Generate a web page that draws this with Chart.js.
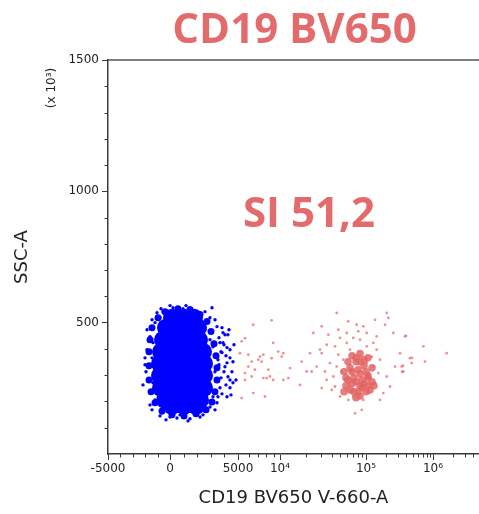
<!DOCTYPE html>
<html>
<head>
<meta charset="utf-8">
<script src="https://cdn.jsdelivr.net/npm/chart.js@4"></script>
<style>
  html, body { margin: 0; padding: 0; background: #fff; }
</style>
</head>
<body>
<canvas id="myChart" width="479" height="514"></canvas>
<script>
// ---- data (x: CD19 BV650 V-660-A, y: SSC-A in thousands) ----
const xTickValues = [-5000, 0, 5000, 1e4, 1e5, 1e6];
const xTickLabels = ['-5000', '0', '5000', '10\u2074', '10\u2075', '10\u2076'];
const yTickValues = [500, 1000, 1500];
const yTickLabels = ['500', '1000', '1500'];

// dense core of the CD19- population
const blueCore = [
  [147,519],[1029,519],[1764,519],
  [-322,481],[588,481],[1470,481],[2058,481],
  [-564,435],[368,435],[1250,435],[2132,435],
  [-725,389],[147,389],[956,389],[1764,389],[2426,389],
  [-806,344],[74,344],[882,344],[1691,344],[2499,344],
  [-806,298],[74,298],[882,298],[1691,298],[2499,298],
  [-725,252],[147,252],[956,252],[1764,252],[2499,252],
  [-403,206],[515,206],[1397,206],[2205,206],
  [147,183],[1029,183],[1911,183]
];
// edge of the dense CD19- cloud
const blueRim = [
  [-967,519],[-403,542],[588,553],[1470,550],[2205,531],[2720,504],[3014,466],[3234,420],
  [3381,374],[3455,328],[3455,282],[3308,237],[3087,198],[2646,168],[1911,153],[1029,145],
  [147,149],[-645,164],[-1209,195],[-1531,237],[-1693,282],[-1693,336],[-1693,389],[-1612,435],
  [-1451,481]
];
// outer events of the CD19- population
const blueEvents = [
  [-2015,340],[-1612,233],[-1451,168],[-1048,538],[-564,542],[221,557],[956,553],[1617,538],
  [2205,511],[2573,473],[3087,557],[3455,485],[3896,462],[4263,454],[4190,405],[4410,366],
  [4263,294],[3675,252],[3161,218],[2720,195],[1985,168],[735,149],[0,141],[-645,156],
  [-1209,206],[-1773,282],[-1854,397],[-1612,447],[-1209,500],[3308,313],[3528,359],[3161,408],
  [2940,435],[2793,282],[3675,424],[4043,332],[4410,282],[4190,218],[3455,195],[2426,149],
  [515,137],[-242,179],[-967,233],[-1370,271],[-1451,366],[-1370,424],[-806,519],[0,531],
  [1323,542],[2058,531],[2720,500],[3822,481],[4043,454],[3896,424],[4410,397],[3822,386],
  [4190,347],[4557,313],[4630,271],[4410,252],
  [2940,519],[3308,511],[3602,443],[3969,416],[3749,389],[4116,374],[3602,340],[3969,313],
  [3749,290],[4116,263],[3822,229],[3528,218],[2940,179],[2205,141],[1470,134],[-806,145],
  [-1612,187],[-1934,313],[-2015,366],[-1854,473],[-1451,511],[-725,553],[0,565],[1176,565],
  [2573,542],[4630,351],[4704,416],[4337,473],[4851,282],[4484,225],[3308,168],[1323,126],
  [-322,130],[-2176,263]
];
// dense core of the CD19+ population
const redCore = [
  [68800,374],[85100,382],[107000,366],[61800,351],[76500,351],[94800,336],[123000,328],
  [55500,313],[68800,313],[85100,305],[107000,298],[61800,282],[76500,275],[94800,267],
  [123000,275],[65200,244],[80700,237],[100000,237],[85100,351],[72400,290],[89800,252],
  [58500,260],[114800,244],[76500,214],
  [76500,366],[94800,359],[65200,328],[80700,321],[100000,313],[58500,290],[89800,282],
  [107000,290],[68800,267],[85100,260],[107000,260],[72400,237],[55500,237],[131600,260],
  [85100,221]
];
// scattered CD19+ events
const redEvents = [
  [6430,492],[8710,509],[5310,429],[5610,441],[5160,384],[5930,378],[6270,352],[7180,371],
  [7590,378],[6980,359],[7380,352],[8710,365],[9710,390],[10470,371],[10920,384],[6610,321],
  [5930,333],[5610,308],[6270,295],[7590,289],[8020,289],[8470,295],[8940,282],[8240,321],
  [10920,282],[12500,289],[5310,213],[6430,232],[7800,219],[8940,423],[13060,327],[5610,282],
  [17870,352],[17100,263],[20420,314],[23360,314],[22340,384],[24420,461],[30550,486],[29170,397],
  [30550,384],[34890,416],[26670,333],[30550,251],[34890,282],[39870,244],[38100,346],[33340,314],
  [45600,537],[47660,473],[36480,454],
  [203700,537],[215400,518],[136200,511],[192300,492],[255800,461],[382200,448],[321300,384],
  [453900,365],[481300,346],[760300,352],[717800,410],[1600000,384],[340400,333],[360600,314],
  [271000,333],[228000,257],[203700,295],[181100,232],[161800,206],[395300,450],[486500,366],
  [356500,336],[344400,313],
  [62230,505],[77930,492],[93110,486],[102400,461],[81300,467],[59700,461],[71100,442],[49900,442],
  [43650,410],[47660,378],[45600,333],[41690,295],[43650,257],[49900,219],[62230,206],[71100,219],
  [93110,206],[108200,232],[136200,270],[152800,308],[161800,359],[144500,397],[128500,423],[144500,448],
  [89100,168],[74500,155],[59700,423],[102400,410],[85100,435],[65200,397],[54450,359],[128500,333],
  [121600,371],[57020,282],[65200,244],[93110,244],[114800,289],[52120,314],[68080,314],[85100,371],
  [102400,346],[74500,270]
];

const toPts = arr => arr.map(([x, y]) => ({ x, y }));

// ---- biexponential-like x scale: linear around zero, log above ----
const X_MAX = 4.9e6;
const xSegments = [ // from, to, relative width, log
  [-5000, 0, 62, false],
  [0, 5000, 68, false],
  [5000, 1e4, 42, true],
  [1e4, 1e5, 86, true],
  [1e5, 1e6, 67, true],
  [1e6, X_MAX, 46, true]
];
const xTotal = xSegments.reduce((s, g) => s + g[2], 0);

function biex(v) {
  let pos = 0;
  for (let i = 0; i < xSegments.length; i++) {
    const [a, b, w, lg] = xSegments[i];
    if (v <= b || i === xSegments.length - 1) {
      const t = lg
        ? (Math.log10(Math.max(v, 1)) - Math.log10(a)) / (Math.log10(b) - Math.log10(a))
        : (v - a) / (b - a);
      return pos + t * w;
    }
    pos += w;
  }
}

class BiexScale extends Chart.LinearScale {
  buildTicks() {
    return xTickValues.map(v => ({ value: v }));
  }
  _calculatePadding() {
    this.paddingLeft = 0;
    this.paddingRight = 0;
  }
  getPixelForValue(v) {
    return this.getPixelForDecimal(biex(v) / xTotal);
  }
  getValueForPixel(p) {
    let u = this.getDecimalForPixel(p) * xTotal, pos = 0;
    for (const [a, b, w, lg] of xSegments) {
      if (u <= pos + w) {
        const t = (u - pos) / w;
        return lg ? Math.pow(10, Math.log10(a) + t * (Math.log10(b) - Math.log10(a))) : a + t * (b - a);
      }
      pos += w;
    }
    return X_MAX;
  }
}
BiexScale.id = 'biex';
BiexScale.defaults = Chart.LinearScale.defaults;
Chart.register(BiexScale);

const xMinor = [];
for (let v = -4000; v <= 9000; v += 1000) if (v !== 0 && v !== 5000) xMinor.push(v);
[1e4, 1e5, 1e6].forEach(d => { for (let k = 2; k <= 9 && d * k < X_MAX; k++) xMinor.push(d * k); });
const yMinor = [];
for (let v = 100; v < 1500; v += 100) if (v % 500) yMinor.push(v);

const axisColor = '#3a3a3a';
const accent = '#e36b6b';

const overlay = {
  id: 'overlay',
  afterDraw(chart) {
    const { ctx, chartArea: a, scales: { x, y } } = chart;
    ctx.save();
    ctx.strokeStyle = '#555';
    ctx.lineWidth = 1.5;
    ctx.beginPath();
    ctx.moveTo(a.left, a.top);
    ctx.lineTo(chart.width, a.top);
    ctx.stroke();

    ctx.strokeStyle = axisColor;
    ctx.lineWidth = 1;
    ctx.beginPath();
    xMinor.forEach(v => {
      const px = Math.round(x.getPixelForValue(v)) + 0.5;
      ctx.moveTo(px, a.bottom); ctx.lineTo(px, a.bottom + 3.5);
    });
    yMinor.forEach(v => {
      const py = Math.round(y.getPixelForValue(v)) + 0.5;
      ctx.moveTo(a.left, py); ctx.lineTo(a.left - 3.5, py);
    });
    ctx.stroke();

    ctx.fillStyle = accent;
    ctx.font = 'bold 42px "Open Sans"';
    ctx.textAlign = 'center';
    ctx.textBaseline = 'alphabetic';
    ctx.fillText('CD19 BV650', (a.left + a.right) / 2 + 1, 43);
    ctx.fillText('SI 51,2', x.getPixelForValue(21700), y.getPixelForValue(863));

    ctx.fillStyle = '#222';
    ctx.font = '12px "DejaVu Sans"';
    ctx.translate(52, 88);
    ctx.rotate(-Math.PI / 2);
    ctx.textBaseline = 'middle';
    ctx.fillText('(x 10\u00b3)', 0, 0);
    ctx.restore();
  }
};

Chart.defaults.font.family = '"DejaVu Sans"';
Chart.defaults.color = '#222';

const blue = '#0000ff';
const red = 'rgba(228,100,100,0.85)';

new Chart(document.getElementById('myChart'), {
  type: 'scatter',
  data: {
    datasets: [
      { label: 'CD19- core', data: toPts(blueCore), backgroundColor: blue, pointRadius: 9, borderWidth: 0 },
      { label: 'CD19- rim', data: toPts(blueRim), backgroundColor: blue, pointRadius: 3.5, borderWidth: 0 },
      { label: 'CD19-', data: toPts(blueEvents), backgroundColor: blue, pointRadius: 1.7, borderWidth: 0 },
      { label: 'CD19+ core', data: toPts(redCore), backgroundColor: red, pointRadius: 3.8, borderWidth: 0 },
      { label: 'CD19+', data: toPts(redEvents), backgroundColor: 'rgba(228,100,100,0.7)', pointRadius: 1.4, borderWidth: 0 }
    ]
  },
  options: {
    responsive: false,
    devicePixelRatio: 1,
    animation: false,
    events: [],
    layout: { autoPadding: false, padding: { top: 60, right: 0, left: 0, bottom: 0 } },
    plugins: { legend: { display: false }, tooltip: { enabled: false } },
    scales: {
      x: {
        type: 'biex',
        min: -5000,
        max: X_MAX,
        afterFit: s => { s.height = 60; },
        border: { color: axisColor, width: 1.5 },
        grid: { drawOnChartArea: false, tickLength: 6, color: axisColor },
        ticks: {
          autoSkip: false, maxRotation: 0, padding: 2,
          font: { size: 12 },
          callback: (v, i) => xTickLabels[i]
        },
        title: { display: true, text: 'CD19 BV650 V-660-A', font: { size: 18 }, padding: { top: 4, bottom: 5 } }
      },
      y: {
        min: 0,
        max: 1500,
        afterFit: s => { s.width = 108; },
        afterBuildTicks: s => { s.ticks = yTickValues.map(v => ({ value: v })); },
        border: { color: axisColor, width: 1.5 },
        grid: { drawOnChartArea: false, tickLength: 6, color: axisColor },
        ticks: {
          padding: 3,
          font: { size: 12 },
          callback: (v, i) => yTickLabels[i]
        },
        title: { display: true, text: 'SSC-A', font: { size: 18 }, padding: { top: 12, bottom: 4 } }
      }
    }
  },
  plugins: [overlay]
});
</script>
</body>
</html>
